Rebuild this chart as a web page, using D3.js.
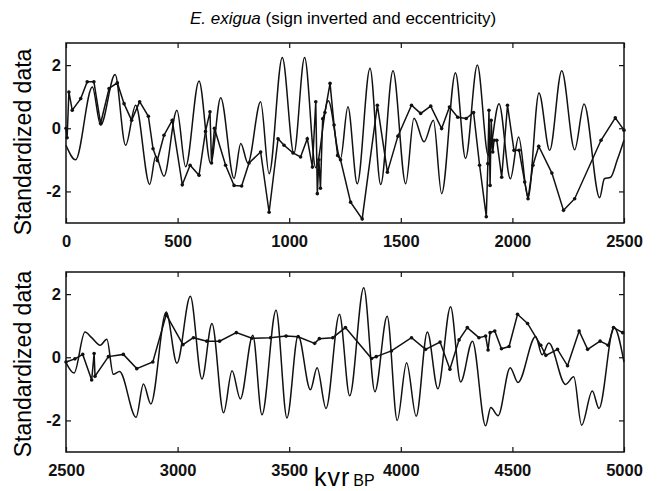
<!DOCTYPE html>
<html>
<head>
<meta charset="utf-8">
<script src="https://cdn.jsdelivr.net/npm/d3@7"></script>
<style>
  body { margin: 0; background: #fff; }
  svg { font-family: "Liberation Sans", Arial, Helvetica, sans-serif; }
</style>
</head>
<body>
<div id="chart"></div>
<script>
// eccentricity curve (smooth) and E. exigua record (dots), 0-2500 kyr
const eccAgesTop = [0,43,118,155,220,267,312,375,402,439,497,536,596,648,693,753,783,815,872,910,969,1021,1069,1119,1175,1230,1263,1305,1362,1410,1465,1522,1559,1604,1646,1683,1745,1790,1843,1892,1940,1991,2028,2070,2119,2167,2221,2279,2321,2391,2412,2440,2470,2500];
const eccValsTop = [-0.54,-1.0,1.31,0.1,1.70,-0.54,0.73,-1.78,-0.88,-1.52,0.57,-1.22,1.5,-1.11,0.97,-1.59,-0.48,-1.1,0.84,-1.44,2.24,-0.8,2.24,-1.25,0.87,-0.96,0.68,-1.76,1.9,-1.78,1.82,-1.76,0.32,-0.43,0.25,-2.07,1.76,-0.96,2.0,-0.86,0.78,-1.6,-0.28,-2.2,1.12,-0.7,1.82,-0.68,0.77,-2.2,-1.6,-1.55,-1.0,-0.38];

const exAgesTop = [0,5,13,28,66,95,125,155,193,230,260,294,330,369,390,409,439,476,521,556,596,625,645,652,665,715,753,787,820,872,910,950,977,1017,1051,1081,1104,1119,1126,1133,1140,1150,1160,1183,1201,1217,1230,1275,1327,1395,1440,1487,1548,1589,1634,1683,1718,1755,1793,1826,1853,1883,1890,1895,1900,1905,1912,1918,1930,1952,1978,2007,2030,2055,2070,2092,2118,2177,2229,2279,2397,2461,2500];
const exValsTop = [0.0,-0.3,1.15,0.57,0.94,1.47,1.47,0.15,1.26,1.44,0.78,0.25,0.84,0.38,-0.65,-1.02,-0.22,0.25,-1.79,-1.17,-1.49,-0.1,0.52,-1.1,0.0,-1.17,-1.81,-1.83,-1.1,-0.75,-2.66,-0.33,-0.54,-0.78,-0.91,-0.33,-1.23,0.84,-2.07,-1.0,-1.9,0.3,0.5,1.42,0.1,-0.86,-1.0,-2.34,-2.87,0.73,-1.39,-0.25,0.73,0.47,0.70,-0.01,0.67,0.35,0.31,0.5,-1.17,-2.8,-1.12,0.57,-1.81,0.25,-0.75,-0.38,-0.38,-1.55,0.73,-0.7,-0.7,-1.7,-2.23,-1.17,-0.57,-1.42,-2.6,-2.23,-0.38,0.33,-0.06];

// 2500-5000 kyr
const eccAgesBot = [2500,2536,2585,2615,2653,2683,2712,2740,2814,2847,2880,2949,2997,3057,3109,3154,3206,3244,3281,3337,3378,3441,3490,3540,3595,3625,3665,3725,3771,3834,3884,3939,3984,4026,4069,4119,4166,4223,4268,4321,4380,4403,4436,4490,4525,4604,4633,4663,4738,4775,4810,4858,4888,4955,5000];
const eccValsBot = [-0.17,-0.5,0.8,0.62,0.38,0.57,-0.54,-0.45,-1.9,-0.85,-1.48,1.43,-0.19,1.93,-0.69,1.07,-1.76,-0.43,-1.32,0.7,-1.82,1.49,-1.92,0.69,-1.03,-0.33,-1.62,1.36,-1.22,2.2,-1.09,1.3,-2.0,-0.17,-1.87,0.8,-1.0,1.6,-0.78,0.51,-2.17,-1.59,-1.85,-0.33,-0.8,0.66,0.08,0.45,-0.86,-0.62,-2.15,-1.07,-1.62,0.95,-0.15];

const exAgesBot = [2500,2540,2575,2615,2626,2630,2690,2757,2817,2889,2949,3024,3071,3131,3188,3263,3333,3416,3486,3540,3614,3635,3695,3752,3869,3890,3958,4048,4111,4176,4220,4261,4298,4350,4380,4391,4400,4421,4451,4485,4523,4568,4627,4650,4702,4747,4799,4837,4893,4929,4953,4994];
const exValsBot = [-0.15,-0.05,0.09,-0.72,0.12,-0.6,0.02,0.09,-0.36,-0.15,1.35,0.4,0.62,0.51,0.51,0.78,0.6,0.62,0.67,0.65,0.44,0.59,0.62,0.94,-0.04,0.02,0.2,0.62,0.25,0.48,-0.38,0.55,0.94,0.62,0.67,0.23,0.78,0.83,0.27,0.34,1.36,1.07,0.38,0.06,0.25,-0.27,0.83,0.25,0.51,0.38,0.94,0.78];

const xTicksTop = [0, 500, 1000, 1500, 2000, 2500];
const xTicksBot = [2500, 3000, 3500, 4000, 4500, 5000];
const yTicks = [-2, 0, 2];

const width = 658, height = 491;

const svg = d3.select("#chart").append("svg")
    .attr("width", width)
    .attr("height", height);

svg.append("text")
    .attr("x", 343)
    .attr("y", 24)
    .attr("text-anchor", "middle")
    .style("font-size", "17px")
    .call(t => {
        t.append("tspan").style("font-style", "italic").text("E. exigua");
        t.append("tspan").text(" (sign inverted and eccentricity)");
    });

function drawPanel(opts) {
    const left = 66, right = 624;
    const top = opts.top, bottom = opts.top + 180;

    const x = d3.scaleLinear().domain(opts.xDomain).range([left, right]);
    const y = d3.scaleLinear().domain([-3, 2.7]).range([bottom, top]);

    const g = svg.append("g");

    const ecc = opts.eccAges.map((a, i) => [a, opts.eccVals[i]]);
    const ex = opts.exAges.map((a, i) => [a, opts.exVals[i]]);

    g.append("path")
        .datum(ecc)
        .attr("fill", "none")
        .attr("stroke", "#111")
        .attr("stroke-width", 1.5)
        .attr("d", d3.line().x(d => x(d[0])).y(d => y(d[1])).curve(d3.curveMonotoneX));

    g.append("path")
        .datum(ex)
        .attr("fill", "none")
        .attr("stroke", "#111")
        .attr("stroke-width", 1.5)
        .attr("d", d3.line().x(d => x(d[0])).y(d => y(d[1])));

    g.selectAll(".dot")
        .data(ex)
        .enter()
        .append("circle")
        .attr("cx", d => x(d[0]))
        .attr("cy", d => y(d[1]))
        .attr("r", 1.8)
        .attr("fill", "#111");

    // inward ticks on all four sides, like the matlab frame
    g.append("g")
        .attr("transform", `translate(0,${bottom})`)
        .call(d3.axisBottom(x).tickValues(opts.xTicks).tickSizeInner(-5).tickSizeOuter(0).tickPadding(12).tickFormat(d => String(d)))
        .call(a => a.select(".domain").remove());
    g.append("g")
        .attr("transform", `translate(0,${top})`)
        .call(d3.axisTop(x).tickValues(opts.xTicks).tickSizeInner(-5).tickSizeOuter(0).tickFormat(""))
        .call(a => a.select(".domain").remove());
    g.append("g")
        .attr("transform", `translate(${left},0)`)
        .call(d3.axisLeft(y).tickValues(yTicks).tickSizeInner(-5).tickSizeOuter(0).tickPadding(5).tickFormat(d => String(d)))
        .call(a => a.select(".domain").remove());
    g.append("g")
        .attr("transform", `translate(${right},0)`)
        .call(d3.axisRight(y).tickValues(yTicks).tickSizeInner(-5).tickSizeOuter(0).tickFormat(""))
        .call(a => a.select(".domain").remove());

    g.selectAll(".tick line").attr("stroke", "#111").attr("stroke-width", 1.2);
    g.selectAll(".tick text")
        .attr("fill", "#111")
        .style("font-size", "16.5px")
        .style("font-weight", "bold")
        .style("font-family", "'Liberation Sans', Arial, sans-serif");

    g.append("rect")
        .attr("x", left)
        .attr("y", top)
        .attr("width", right - left)
        .attr("height", bottom - top)
        .attr("fill", "none")
        .attr("stroke", "#111")
        .attr("stroke-width", 1.5);

    svg.append("text")
        .attr("transform", `translate(31,${opts.labelY}) rotate(-90)`)
        .attr("text-anchor", "middle")
        .style("font-size", "23px")
        .text("Standardized data");
}

drawPanel({ top: 43, xDomain: [0, 2500], xTicks: xTicksTop,
    eccAges: eccAgesTop, eccVals: eccValsTop, exAges: exAgesTop, exVals: exValsTop, labelY: 142 });
drawPanel({ top: 272, xDomain: [2500, 5000], xTicks: xTicksBot,
    eccAges: eccAgesBot, eccVals: eccValsBot, exAges: exAgesBot, exVals: exValsBot, labelY: 364 });

const xl = svg.append("text")
    .attr("x", 314)
    .attr("y", 486);
xl.append("tspan").style("font-size", "25px").attr("letter-spacing", "1px").text("kvr");
xl.append("tspan").attr("dx", 3).style("font-size", "16px").text("BP");
</script>
</body>
</html>
